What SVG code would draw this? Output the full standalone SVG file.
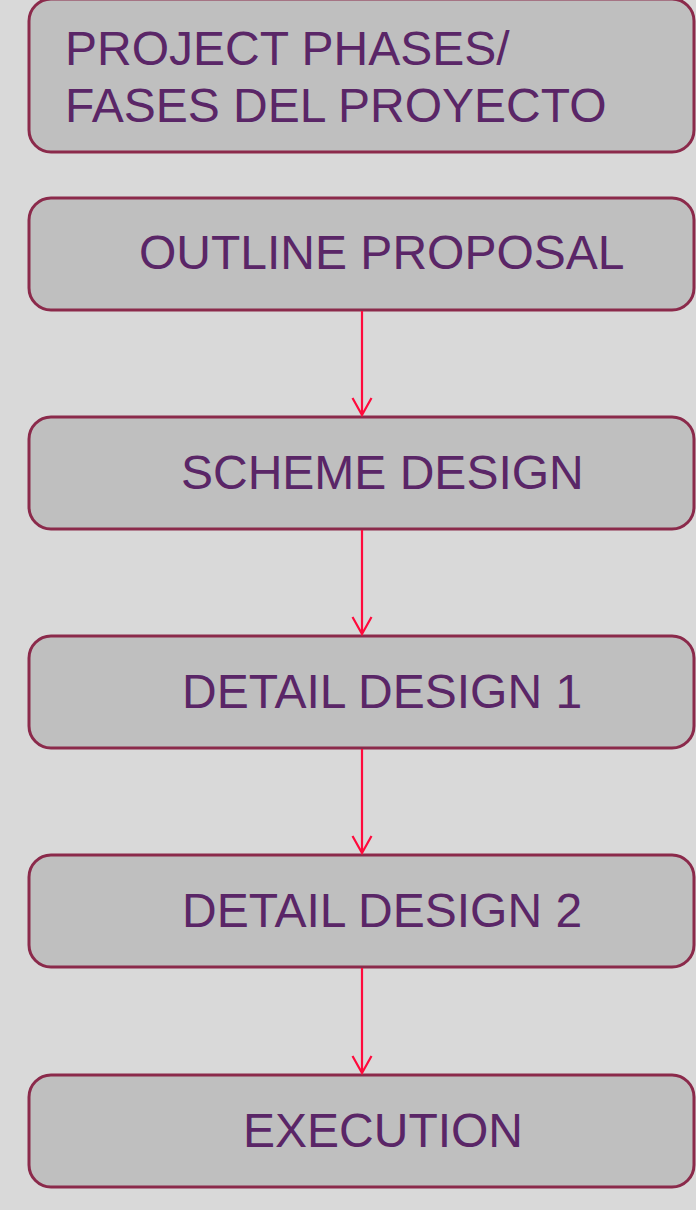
<svg xmlns="http://www.w3.org/2000/svg" width="696" height="1210" viewBox="0 0 696 1210">
<defs>
<style>
.box{fill:#bfbfbf;stroke:#8b2a4b;stroke-width:3}
.lbl{font-family:"Liberation Sans",Arial,sans-serif;font-size:48px;fill:#5a2667}
.con{stroke:#ff0a3c;stroke-width:2.2;fill:none}
</style>
</defs>
<rect width="696" height="1210" fill="#d9d9d9"/>
<g id="n0"><rect class="box" x="29" y="-1" width="665" height="153" rx="22"/>
<text class="lbl" x="65" y="65">PROJECT PHASES/</text>
<text class="lbl" x="65" y="122">FASES DEL PROYECTO</text></g>
<g id="n1"><rect class="box" x="29" y="198" width="665" height="112" rx="22"/><text class="lbl" x="139" y="269">OUTLINE PROPOSAL</text></g>
<g id="n2"><rect class="box" x="29" y="417" width="665" height="112" rx="22"/><text class="lbl" x="181" y="489">SCHEME DESIGN</text></g>
<g id="n3"><rect class="box" x="29" y="636" width="665" height="112" rx="22"/><text class="lbl" x="182" y="708">DETAIL DESIGN 1</text></g>
<g id="n4"><rect class="box" x="29" y="855" width="665" height="112" rx="22"/><text class="lbl" x="182" y="927">DETAIL DESIGN 2</text></g>
<g id="n5"><rect class="box" x="29" y="1075" width="665" height="112" rx="22"/><text class="lbl" x="243" y="1147">EXECUTION</text></g>
<g id="connectors">
<path class="con" d="M362 311V415M352.5 398L362 415L371.5 398"/>
<path class="con" d="M362 530V634M352.5 617L362 634L371.5 617"/>
<path class="con" d="M362 749V853M352.5 836L362 853L371.5 836"/>
<path class="con" d="M362 968V1073M352.5 1056L362 1073L371.5 1056"/>
</g>
</svg>
